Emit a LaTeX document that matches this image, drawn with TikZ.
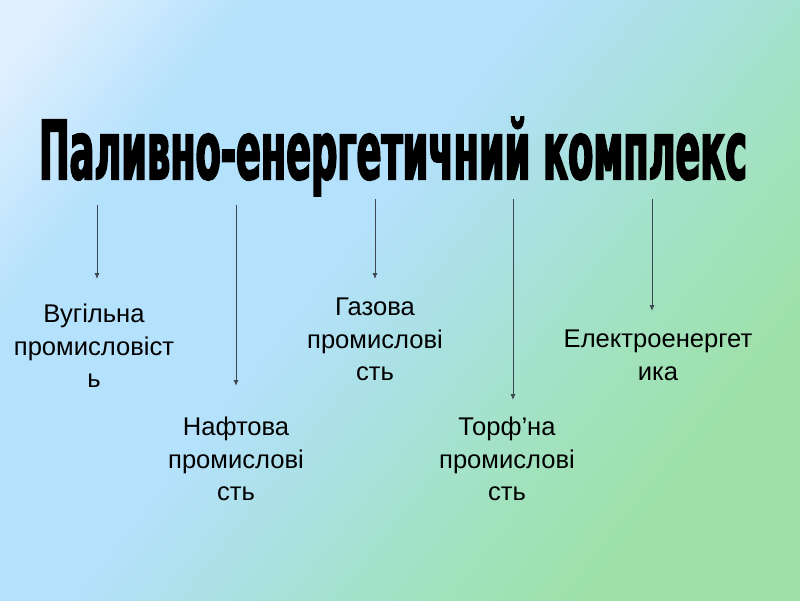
\documentclass[tikz,border=0pt]{standalone}
\usepackage{fontspec}
\setmainfont{Liberation Sans}
\newfontfamily\titlefont{DejaVu Sans}[FakeStretch=0.45, FakeBold=2]
\usepackage{xcolor}
\usepackage{tikz}
\usetikzlibrary{calc, positioning, arrows.meta}
\definecolor{BgLight}{HTML}{E0F0FF}
\definecolor{BgBlue}{HTML}{B4E1FB}
\definecolor{BgCyan}{HTML}{A9E1E0}
\definecolor{BgMint}{HTML}{A2E2C2}
\definecolor{BgGreen}{HTML}{9EE0A8}
\definecolor{ArrowGray}{HTML}{3E4852}
\pgfdeclarehorizontalshading{slidebg}{100bp}{color(0bp)=(BgLight); color(18bp)=(BgLight);
  color(29bp)=(BgBlue); color(45bp)=(BgBlue); color(54bp)=(BgCyan); color(63bp)=(BgMint);
  color(73bp)=(BgGreen); color(100bp)=(BgGreen)}

\begin{document}
\begin{tikzpicture}[
        branch/.style={align=center, anchor=north, inner sep=0pt,
                       font=\fontsize{18.2}{23.1}\selectfont},
        arr/.style={-{Latex[length=4pt, width=3.5pt]}, ArrowGray, line width=0.5pt}]

        % background of the slide
        \shade[shading=slidebg, shading angle=-38] (0,0) rectangle (20,-15);
        \useasboundingbox (0,0) rectangle (20,-15);

        \node[font=\titlefont\bfseries\fontsize{58}{60}\selectfont, anchor=base] (title) at (9.825,-4.48)
             {Паливно-енергетичний комплекс};

        \coordinate (t1) at (2.425,-5.125);
        \coordinate (t2) at (5.9,-5.125);
        \coordinate (t3) at (9.375,-4.975);
        \coordinate (t4) at (12.825,-4.975);
        \coordinate (t5) at (16.3,-4.975);

        \node[branch] (coal)  at (2.35,-7.6)    {Вугільна\\промисловіст\\ь};
        \node[branch] (oil)   at (5.9,-10.425)  {Нафтова\\промислові\\сть};
        \node[branch] (gas)   at (9.375,-7.45)  {Газова\\промислові\\сть};
        \node[branch] (peat)  at (12.675,-10.425) {Торф’на\\промислові\\сть};
        \node[branch] (power) at (16.45,-8.25)  {Електроенергет\\ика};

        \draw[arr, shorten >=0.63cm] (t1) -- (t1 |- coal.north);
        \draw[arr, shorten >=0.78cm] (t2) -- (t2 |- oil.north);
        \draw[arr, shorten >=0.48cm] (t3) -- (t3 |- gas.north);
        \draw[arr, shorten >=0.43cm] (t4) -- (t4 |- peat.north);
        \draw[arr, shorten >=0.48cm] (t5) -- (t5 |- power.north);
      \end{tikzpicture}
\end{document}
